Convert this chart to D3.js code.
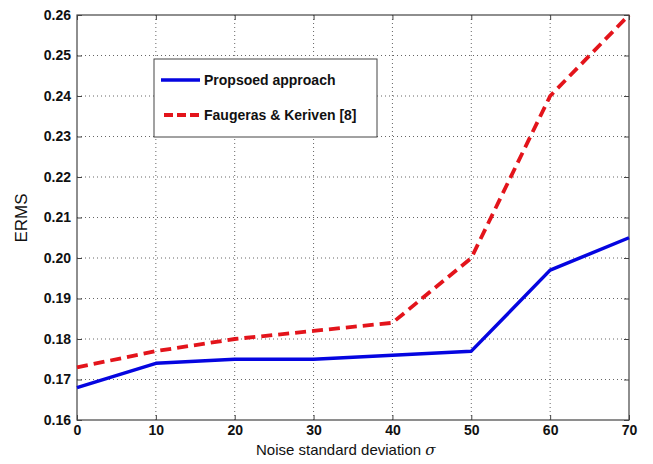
<!DOCTYPE html>
<html><head><meta charset="utf-8">
<script src="https://cdn.jsdelivr.net/npm/d3@7"></script>
<style>body{margin:0;background:#fff}svg{display:block}</style>
</head><body>
<svg id="c" width="653" height="464"></svg>
<script>
const noise = [0, 10, 20, 30, 40, 50, 60, 70];
const proposed = [0.168, 0.174, 0.175, 0.175, 0.176, 0.177, 0.197, 0.205];
const faugeras = [0.173, 0.177, 0.180, 0.182, 0.184, 0.200, 0.240, 0.260];
const xTicks = [0, 10, 20, 30, 40, 50, 60, 70];
const yTicks = [0.16, 0.17, 0.18, 0.19, 0.20, 0.21, 0.22, 0.23, 0.24, 0.25, 0.26];
const seriesNames = ["Propsoed approach", "Faugeras & Keriven [8]"];

const svg = d3.select("#c");
const L = 77, R = 629, T = 15, B = 420;
const x = d3.scaleLinear().domain([0, 70]).range([L, R]);
const y = d3.scaleLinear().domain([0.16, 0.26]).range([B, T]);
const font = "Liberation Sans, Arial, Helvetica, sans-serif";

// grid
const g = svg.append("g");
g.selectAll(".gx").data(xTicks.slice(1, -1)).enter().append("line")
  .attr("x1", d => x(d)).attr("x2", d => x(d)).attr("y1", T).attr("y2", B)
  .attr("stroke", "#666").attr("stroke-width", 1).attr("stroke-dasharray", "1,3");
g.selectAll(".gy").data(yTicks.slice(1, -1)).enter().append("line")
  .attr("y1", d => y(d)).attr("y2", d => y(d)).attr("x1", L).attr("x2", R)
  .attr("stroke", "#666").attr("stroke-width", 1).attr("stroke-dasharray", "1,3");

// axes
const xAxis = d3.axisBottom(x).tickValues(xTicks).tickFormat(d3.format("d")).tickSizeInner(-5).tickSizeOuter(0).tickPadding(5);
const yAxis = d3.axisLeft(y).tickValues(yTicks).tickFormat(d3.format(".2f")).tickSizeInner(-5).tickSizeOuter(0).tickPadding(6);
const xa = svg.append("g").attr("transform", `translate(0,${B})`).call(xAxis);
const ya = svg.append("g").attr("transform", `translate(${L},0)`).call(yAxis);
const xt = svg.append("g").attr("transform", `translate(0,${T})`).call(d3.axisTop(x).tickValues(xTicks).tickFormat("").tickSizeInner(-5).tickSizeOuter(0));
const yr = svg.append("g").attr("transform", `translate(${R},0)`).call(d3.axisRight(y).tickValues(yTicks).tickFormat("").tickSizeInner(-5).tickSizeOuter(0));
[xa, ya, xt, yr].forEach(a => {
  a.select(".domain").remove();
  a.selectAll("line").attr("stroke", "#444");
  a.selectAll("text").attr("font-family", font).attr("font-size", 14).attr("font-weight", "bold").attr("fill", "#111");
});
xa.selectAll("text").attr("dy", "0.71em");

svg.append("rect").attr("x", L).attr("y", T).attr("width", R - L).attr("height", B - T)
  .attr("fill", "none").attr("stroke", "#444").attr("stroke-width", 1.2);

// lines
const line = d3.line().x((d, i) => x(noise[i])).y(d => y(d));
svg.append("path").datum(proposed).attr("d", line).attr("fill", "none")
  .attr("stroke", "#0505e0").attr("stroke-width", 3.5).attr("stroke-linejoin", "round");
svg.append("path").datum(faugeras).attr("d", line).attr("fill", "none")
  .attr("stroke", "#e3141b").attr("stroke-width", 3.8).attr("stroke-dasharray", "11,6");

// legend
const lg = svg.append("g");
lg.append("rect").attr("x", 154).attr("y", 59).attr("width", 223).attr("height", 78)
  .attr("fill", "#fff").attr("stroke", "#444").attr("stroke-width", 1);
lg.append("line").attr("x1", 161).attr("x2", 200).attr("y1", 80).attr("y2", 80)
  .attr("stroke", "#0505e0").attr("stroke-width", 3.5);
lg.append("line").attr("x1", 164).attr("x2", 200).attr("y1", 115).attr("y2", 115)
  .attr("stroke", "#e3141b").attr("stroke-width", 3.8).attr("stroke-dasharray", "9,4");
lg.selectAll("text").data(seriesNames).enter().append("text")
  .attr("x", 204).attr("y", (d, i) => i === 0 ? 85 : 120)
  .attr("font-family", font).attr("font-size", 14).attr("font-weight", "bold").attr("fill", "#111")
  .text(d => d);

// axis titles
svg.append("text").attr("transform", "translate(27,218) rotate(-90)").attr("text-anchor", "middle")
  .attr("font-family", font).attr("font-size", 17).attr("fill", "#111").text("ERMS");
const xl = svg.append("text").attr("x", 256).attr("y", 455)
  .attr("font-family", font).attr("font-size", 15).attr("fill", "#111");
xl.append("tspan").text("Noise standard deviation ");
xl.append("tspan").attr("font-family", "DejaVu Serif, serif").attr("font-style", "italic").text("σ");
</script>
</body></html>
